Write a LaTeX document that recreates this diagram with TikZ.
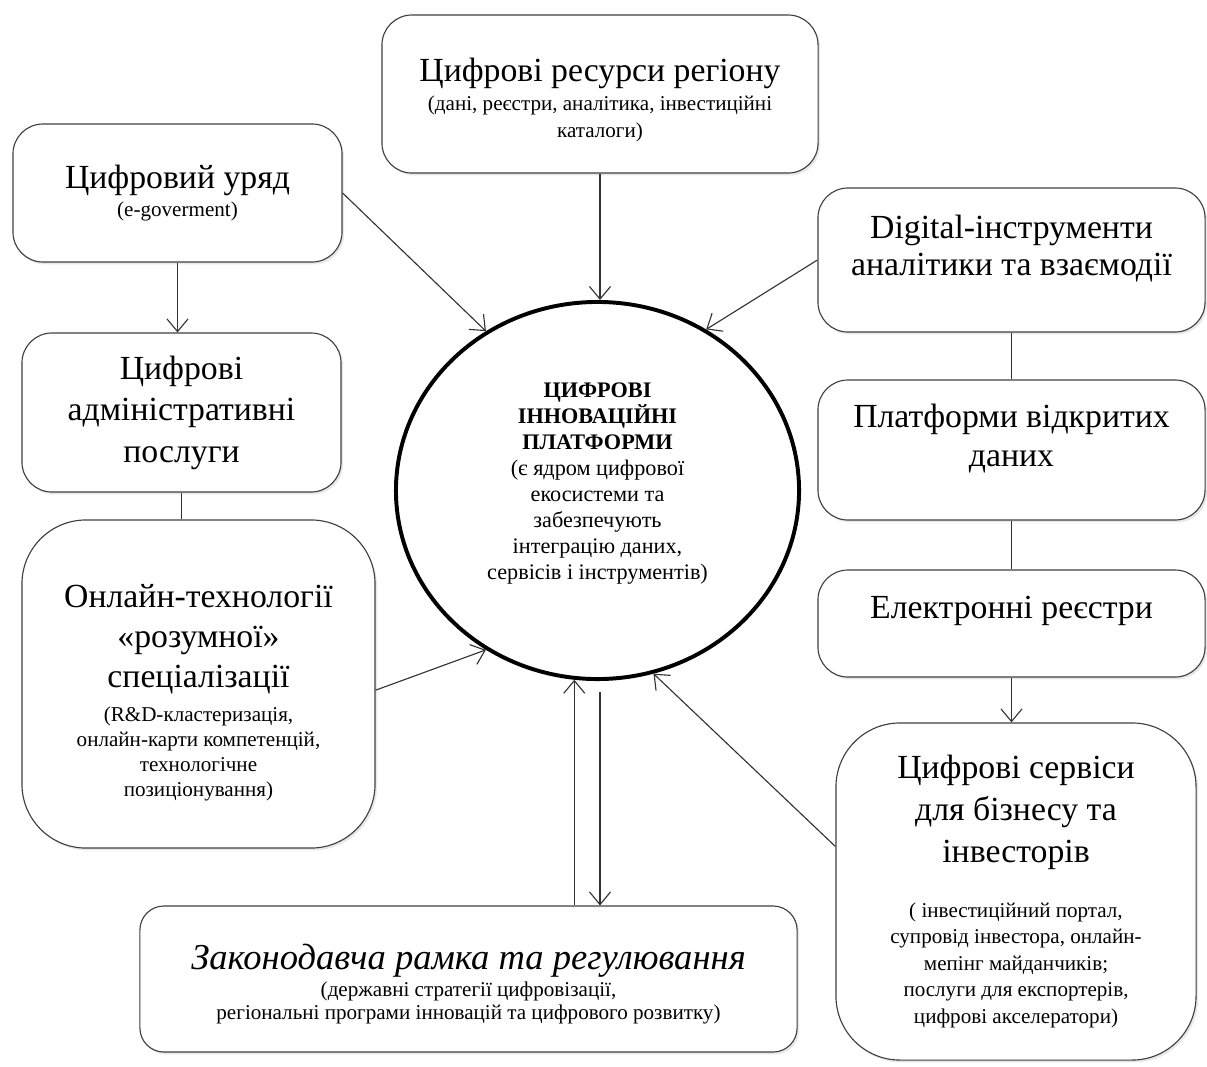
\documentclass[tikz,border=0pt]{standalone}
\usepackage{fontspec}
\setmainfont{Liberation Serif}
\usetikzlibrary{arrows.meta, positioning, shapes.geometric, shadows}

\newcommand{\bigtxt}{\fontsize{24}{28.5}\selectfont}
\newcommand{\smalltxt}{\fontsize{15}{18}\selectfont}
\newcommand{\coretxt}{\fontsize{15.8}{18.5}\selectfont}

\begin{document}
\begin{tikzpicture}[x=0.025cm, y=-0.025cm,
  box/.style={draw=black!75, line width=0.8pt, rounded corners=0.75cm, fill=white, align=center, font=\bigtxt,
    drop shadow={opacity=0.18, shadow xshift=0.05cm, shadow yshift=-0.06cm}},
  bigbox/.style={box, rounded corners=1.6cm},
  core/.style={ellipse, draw, line width=2.8pt, align=center, inner sep=0pt, font=\coretxt},
  arr/.style={-{Straight Barb[length=9pt, width=15pt]}, line width=0.8pt, draw=black!80},
  link/.style={line width=0.8pt, draw=black!80}]
\useasboundingbox (0,0) rectangle (1207,1066);

% centre
\node[core, minimum width=10.075cm, minimum height=9.425cm] (plat) at (597.5,490.5)
  {\textbf{ЦИФРОВІ}\\\textbf{ІННОВАЦІЙНІ}\\\textbf{ПЛАТФОРМИ}\\(є ядром цифрової\\екосистеми та\\забезпечують\\інтеграцію даних,\\сервісів і інструментів)\\[-5.7pt]\mbox{}};

% top and left
\node[box, minimum width=10.9cm, minimum height=3.95cm] (resurs) at (600,94)
  {\mbox{}\\[-3pt]Цифрові ресурси регіону\\[-8.5pt]{\smalltxt (дані, реєстри, аналітика, інвестиційні}\\[-9pt]{\smalltxt каталоги)}};
\node[box, minimum width=8.225cm, minimum height=3.45cm] (uryad) at (177.5,193)
  {Цифровий уряд\\[-8.5pt]{\smalltxt (e-goverment)}};
\node[box, minimum width=7.975cm, minimum height=3.975cm] (admin) at (181.5,412.5)
  {Цифрові\\[1pt]адміністративні\\[1pt]послуги};
\node[bigbox, minimum width=8.825cm, minimum height=8.2cm] (online) at (198.5,684)
  {\mbox{}\\Онлайн-технології\\«розумної»\\спеціалізації\\[-4.5pt]{\smalltxt (R\&D-кластеризація,}\\[-10.8pt]{\smalltxt онлайн-карти компетенцій,}\\[-10.8pt]{\smalltxt технологічне}\\[-10.8pt]{\smalltxt позиціонування)}};

% right column
\node[box, minimum width=9.675cm, minimum height=3.6cm] (digital) at (1011.5,260)
  {Digital-інструменти\\[-2pt]аналітики та взаємодії\\[-8pt]\mbox{}};
\node[box, minimum width=9.675cm, minimum height=3.5cm] (platf) at (1011.5,450)
  {Платформи відкритих\\[-1pt]даних\\[-8pt]\mbox{}};
\node[box, minimum width=9.675cm, minimum height=2.675cm] (elreg) at (1011.5,623.5)
  {Електронні реєстри\\[-6pt]\mbox{}};
\node[bigbox, minimum width=9cm, minimum height=8.425cm] (servis) at (1016,891.5)
  {Цифрові сервіси\\[1.3pt]для бізнесу та\\[1.3pt]інвесторів\\[10.5pt]{\smalltxt ( інвестиційний портал,}\\[-9.7pt]{\smalltxt супровід інвестора, онлайн-}\\[-9.7pt]{\smalltxt мепінг майданчиків;}\\[-9.7pt]{\smalltxt послуги для експортерів,}\\[-9.7pt]{\smalltxt цифрові акселератори)}};

% bottom
\node[box, rounded corners=0.6cm, minimum width=16.425cm, minimum height=3.65cm] (zakon) at (468.5,979)
  {\mbox{}\\[-3.5pt]{\fontsize{26}{30}\selectfont\itshape Законодавча рамка та регулювання}\\[-9pt]{\smalltxt (державні стратегії цифровізації,}\\[-12.5pt]{\smalltxt регіональні програми інновацій та цифрового розвитку)}};

% connectors
\draw[arr] (resurs.south) -- (resurs.south |- plat.north);
\draw[arr] (uryad.east) -- (plat.125);
\draw[arr] (digital.west) -- (plat.56);
\draw[arr] (online.358) -- (plat.235);
\draw[arr] (servis.166) -- (plat.287);
\draw[arr] (zakon.north -| plat.263) -- (plat.263);
\draw[arr] ([xshift=0.0625cm, yshift=-0.275cm]plat.south) coordinate (dn) -- (dn |- zakon.north);
\draw[arr] (uryad.south) -- (uryad.south |- admin.north);
\draw[link] (admin.south) -- (admin.south |- online.north);
\draw[link] (digital.south) -- (platf.north);
\draw[link] (platf.south) -- (elreg.north);
\draw[arr] (elreg.south) -- (elreg.south |- servis.north);
\end{tikzpicture}
\end{document}
